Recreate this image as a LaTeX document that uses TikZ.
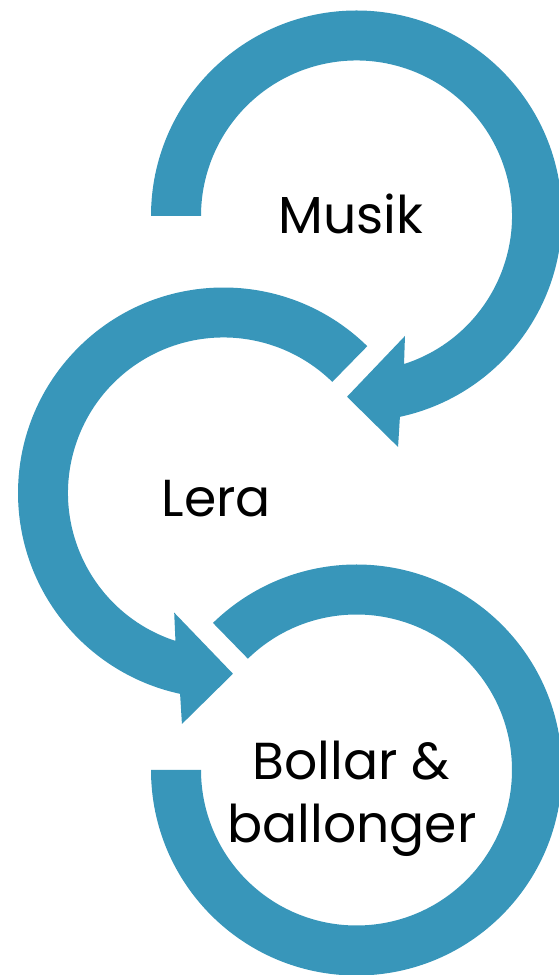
\documentclass[tikz,border=0pt]{standalone}
\usepackage{fontspec}
\setmainfont{Poppins}
\definecolor{ringblue}{RGB}{56,150,186}
\begin{document}
\begin{tikzpicture}[x=1pt,y=1pt,
  ringfill/.style={fill=ringblue},
  label/.style={font=\fontsize{52}{60}\selectfont, text=black, inner sep=0pt, anchor=base}]
\useasboundingbox (0,0) rectangle (559,975);
\clip (0,0) rectangle (559,975);
% ring 1 (Musik)
\begin{scope}[shift={(356.5,759)}]
\fill[ringfill] (180:205.5) arc[start angle=180,end angle=-77.8,radius=205.5]
  -- (-79.8:234.7) -- (-93:181) -- (-68:129.4) -- (-72.2:155.5)
  arc[start angle=-72.2,end angle=180,radius=155.5] -- cycle;
\end{scope}
% ring 2 (Lera)
\begin{scope}[shift={(223.5,482)}]
\fill[ringfill] (45.6:205.5) arc[start angle=45.6,end angle=257.8,radius=205.5]
  -- (259.8:234.7) -- (273:181) -- (247.6:129.4) -- (252:155.5)
  arc[start angle=252,end angle=45.6,radius=155.5] -- cycle;
\end{scope}
% ring 3 (Bollar)
\begin{scope}[shift={(356.5,205)}]
\fill[ringfill] (180:205.5) arc[start angle=180,end angle=494.3,radius=205.5]
  -- (494.3:155.5) arc[start angle=494.3,end angle=180,radius=155.5] -- cycle;
\end{scope}
\node[label] (musik) at (351,741) {Musik};
\node[label] (lera) at (216.5,458) {Lera};
\node[label] (bollar) at (351.5,195) {Bollar \&};
\node[label] (ballonger) at (352,132) {ballonger};
\end{tikzpicture}
\end{document}
